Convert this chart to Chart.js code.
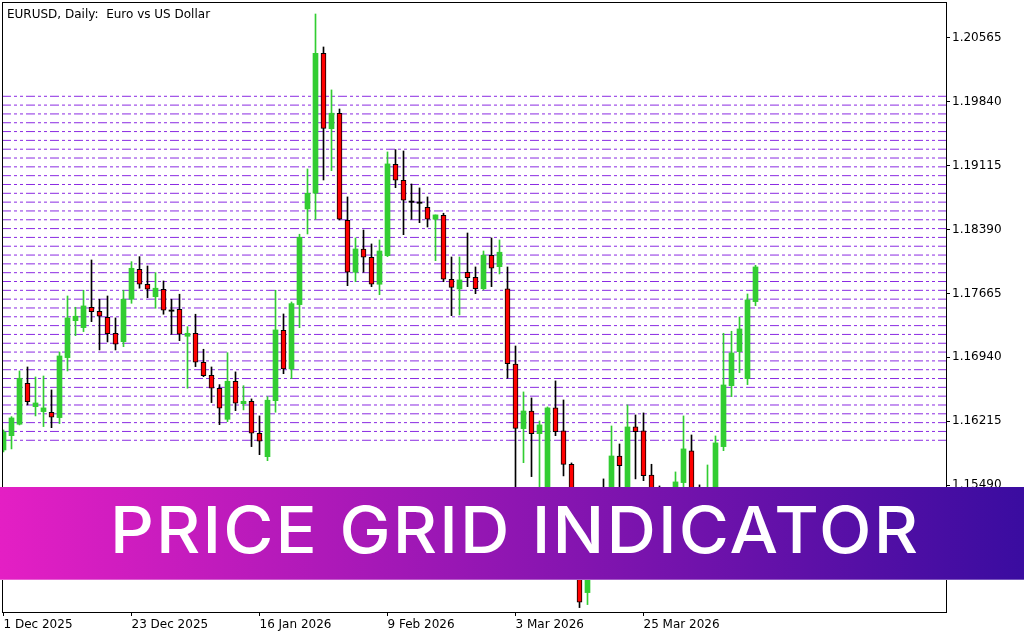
<!DOCTYPE html>
<html>
<head>
<meta charset="utf-8">
<title>EURUSD Daily - Price Grid Indicator</title>
<script src="https://cdn.jsdelivr.net/npm/chart.js@4.4.1/dist/chart.umd.min.js"></script>
<style>
  html, body { margin: 0; padding: 0; background: #fff; }
  #wrap { position: relative; width: 1024px; height: 640px; overflow: hidden; }
  #title { position: absolute; left: 7px; top: 7px; font: 12px "DejaVu Sans"; line-height: 14px; color: #000; white-space: pre; }
  #banner {
    position: absolute; left: 0; top: 487px; width: 1024px; height: 93px;
    background: linear-gradient(90deg, #e41fc4 0%, #3a0ca0 100%);
    border-bottom: 1px solid rgba(255, 255, 255, 0.3); box-sizing: border-box;
  }
  #banner span {
    position: absolute; left: 110px; top: 11px; color: #fff;
    font: 500 64px Inter; line-height: 64px; white-space: nowrap;
    letter-spacing: 2px; transform-origin: 0 50%;
  }
</style>
</head>
<body>
<div id="wrap">
  <canvas id="chart" width="1024" height="640"></canvas>
  <div id="title">EURUSD, Daily:  Euro vs US Dollar</div>
  <div id="banner"><span>PRICE GRID INDICATOR</span></div>
</div>
<script>
// daily candles, 1 Dec 2025 onwards
const opens = [
  1.15890, 1.16052, 1.16182, 1.16647, 1.16381, 1.16325, 1.16318, 1.16257, 1.16937, 1.17356,
  1.17277, 1.17508, 1.17463, 1.17395, 1.17213, 1.17118, 1.17599, 1.17939, 1.17769, 1.17628,
  1.17712, 1.17470, 1.17485, 1.17179, 1.17213, 1.16885, 1.16737, 1.16590, 1.16238, 1.16669,
  1.16415, 1.16442, 1.16080, 1.15814, 1.16449, 1.17247, 1.16809, 1.17538, 1.18623, 1.18801,
  1.20388, 1.19533, 1.19708, 1.18494, 1.17905, 1.18169, 1.18075, 1.17769, 1.18093, 1.19129,
  1.18948, 1.18705, 1.18694, 1.18642, 1.18506, 1.18551, 1.17826, 1.17716, 1.17905, 1.17848,
  1.17719, 1.18098, 1.17968, 1.17716, 1.16865, 1.16132, 1.16332, 1.16075, 1.15414, 1.16367,
  1.16106, 1.15728, 1.15074, 1.14273, 1.14700, 1.15324, 1.15040, 1.15822, 1.15324, 1.16151,
  1.16106, 1.15604, 1.15267, 1.15097, 1.15267, 1.15520, 1.15879, 1.15324, 1.15153, 1.15380,
  1.15928, 1.16619, 1.17005, 1.16699, 1.17572
];
const highs = [
  1.16117, 1.16268, 1.16786, 1.16831, 1.16718, 1.16729, 1.16571, 1.17001, 1.17636, 1.17508,
  1.17701, 1.18044, 1.17599, 1.17636, 1.17387, 1.17701, 1.18025, 1.18082, 1.17976, 1.17900,
  1.17806, 1.17599, 1.17656, 1.17288, 1.17429, 1.17032, 1.16831, 1.16631, 1.16993, 1.16775,
  1.16619, 1.16469, 1.16276, 1.16495, 1.17701, 1.17432, 1.17568, 1.18336, 1.19076, 1.20833,
  1.20459, 1.19972, 1.19756, 1.18759, 1.18294, 1.18384, 1.18226, 1.18271, 1.19269, 1.19295,
  1.19280, 1.18906, 1.18861, 1.18759, 1.18555, 1.18574, 1.18078, 1.18078, 1.18350, 1.17965,
  1.18146, 1.18294, 1.18271, 1.17965, 1.17069, 1.16548, 1.16480, 1.16219, 1.16378, 1.16673,
  1.16457, 1.15743, 1.15153, 1.14757, 1.15074, 1.15562, 1.16162, 1.15958, 1.16401, 1.16287,
  1.16310, 1.15728, 1.15482, 1.15380, 1.15641, 1.16276, 1.16060, 1.15494, 1.15720, 1.16049,
  1.17213, 1.17236, 1.17398, 1.17659, 1.17984
];
const lows = [
  1.15868, 1.15902, 1.16174, 1.16401, 1.16276, 1.16155, 1.16143, 1.16189, 1.16786, 1.17186,
  1.17232, 1.17345, 1.17024, 1.17115, 1.17024, 1.17061, 1.17553, 1.17724, 1.17617, 1.17497,
  1.17429, 1.17202, 1.17129, 1.16590, 1.16835, 1.16721, 1.16427, 1.16177, 1.16211, 1.16336,
  1.16344, 1.15928, 1.15837, 1.15769, 1.16318, 1.16755, 1.16699, 1.17277, 1.18339, 1.18506,
  1.18951, 1.19057, 1.18498, 1.17753, 1.17798, 1.17905, 1.17742, 1.17651, 1.18082, 1.18864,
  1.18331, 1.18506, 1.18467, 1.18418, 1.18036, 1.17798, 1.17413, 1.17421, 1.17742, 1.17662,
  1.17704, 1.17742, 1.17886, 1.16703, 1.15437, 1.15746, 1.15588, 1.15380, 1.15358, 1.16052,
  1.15596, 1.15006, 1.14103, 1.14137, 1.14643, 1.14927, 1.14983, 1.15414, 1.15267, 1.15562,
  1.15542, 1.15187, 1.15006, 1.14983, 1.15210, 1.15414, 1.15267, 1.15097, 1.15074, 1.15324,
  1.15882, 1.16495, 1.16767, 1.16631, 1.17526
];
const closes = [
  1.16094, 1.16253, 1.16703, 1.16438, 1.16423, 1.16367, 1.16261, 1.16956, 1.17387, 1.17406,
  1.17523, 1.17458, 1.17406, 1.17209, 1.17089, 1.17599, 1.17950, 1.17769, 1.17712, 1.17724,
  1.17474, 1.17470, 1.17202, 1.17213, 1.16885, 1.16733, 1.16590, 1.16363, 1.16669, 1.16420,
  1.16442, 1.16080, 1.15989, 1.16454, 1.17251, 1.16809, 1.17549, 1.18302, 1.18801, 1.20388,
  1.19537, 1.19708, 1.18506, 1.17905, 1.18169, 1.18075, 1.17769, 1.18146, 1.19133, 1.18948,
  1.18721, 1.18705, 1.18694, 1.18506, 1.18555, 1.17826, 1.17733, 1.17818, 1.17844, 1.17719,
  1.18098, 1.17950, 1.18132, 1.16869, 1.16134, 1.16332, 1.16075, 1.16174, 1.16367, 1.16098,
  1.15726, 1.15097, 1.14164, 1.14700, 1.14983, 1.15040, 1.15822, 1.15712, 1.16151, 1.16098,
  1.15599, 1.15267, 1.15097, 1.15324, 1.15528, 1.15902, 1.15324, 1.15153, 1.15380, 1.15970,
  1.16627, 1.16990, 1.17262, 1.17591, 1.17965
];

// price grid levels drawn by the indicator
const gridLevels = [
  1.1600, 1.1610, 1.1620, 1.1630, 1.1640, 1.1650, 1.1660, 1.1670, 1.1680, 1.1690,
  1.1700, 1.1710, 1.1720, 1.1730, 1.1740, 1.1750, 1.1760, 1.1770, 1.1780, 1.1790,
  1.1800, 1.1810, 1.1820, 1.1830, 1.1840, 1.1850, 1.1860, 1.1870, 1.1880, 1.1890,
  1.1900, 1.1910, 1.1920, 1.1930, 1.1940, 1.1950, 1.1960, 1.1970, 1.1980, 1.1990
];

const priceTicks = [1.14765, 1.15490, 1.16215, 1.16940, 1.17665, 1.18390, 1.19115, 1.19840, 1.20565];
const dateTickBars = [0, 16, 32, 48, 64, 80];
const dateTickLabels = ["1 Dec 2025", "23 Dec 2025", "16 Jan 2026", "9 Feb 2026", "3 Mar 2026", "25 Mar 2026"];

const GREEN = "#32cd32";
const RED = "#ff0000";
const VIOLET = "#8a2be2";

// 8 px per bar over a 944 px wide plot
const xMin = -0.1875;
const xMax = 117.8125;
const yMin = 1.14053;
const yMax = 1.20969;

const kind = opens.map((o, i) => (closes[i] > o ? "up" : closes[i] < o ? "down" : "doji"));

const bodies = opens.map((o, i) => ({
  x: i,
  y: kind[i] === "doji" ? [o - 0.00007, o + 0.00007] : [o, closes[i]],
}));
const wicks = opens.map((o, i) => ({ x: i, y: [lows[i], highs[i]] }));

const levelSets = gridLevels.map((lvl) => ({
  type: "line",
  data: [
    { x: xMin, y: lvl },
    { x: xMax, y: lvl },
  ],
  borderColor: VIOLET,
  borderWidth: 1,
  borderDash: [9, 3, 3, 3, 3, 3],
  pointRadius: 0,
  fill: false,
  order: 2,
}));

const framePlugin = {
  id: "frame",
  afterDraw(chart) {
    const { ctx, chartArea: a } = chart;
    ctx.save();
    ctx.strokeStyle = "#000";
    ctx.lineWidth = 1;
    ctx.strokeRect(a.left + 0.5, a.top + 0.5, a.right - a.left, a.bottom - a.top);
    ctx.restore();
  },
};

const tickFont = { family: "DejaVu Sans", size: 12 };

new Chart(document.getElementById("chart"), {
  type: "bar",
  data: {
    datasets: [
      {
        data: bodies,
        grouped: false,
        barThickness: 5,
        backgroundColor: kind.map((k) => (k === "up" ? GREEN : k === "down" ? RED : "#000")),
        borderColor: "#000",
        borderWidth: kind.map((k) => (k === "down" ? 1 : 0)),
        borderSkipped: false,
        order: 0,
      },
      {
        data: wicks,
        grouped: false,
        barThickness: 1,
        backgroundColor: kind.map((k) => (k === "up" ? GREEN : "#000")),
        borderWidth: 0,
        order: 1,
      },
      ...levelSets,
    ],
  },
  options: {
    responsive: false,
    animation: false,
    events: [],
    layout: { padding: { left: 2, top: 2, right: 0, bottom: 0 } },
    plugins: {
      legend: { display: false },
      tooltip: { enabled: false },
    },
    scales: {
      x: {
        type: "linear",
        min: xMin,
        max: xMax,
        offset: false,
        afterBuildTicks: (s) => {
          s.ticks = dateTickBars.map((v) => ({ value: v }));
        },
        afterFit: (s) => {
          s.height = 28;
          s.paddingLeft = 0;
          s.paddingRight = 0;
        },
        grid: { offset: false, drawOnChartArea: false, drawTicks: true, tickLength: 4, color: "#000" },
        border: { display: false },
        ticks: {
          autoSkip: false,
          maxRotation: 0,
          align: "start",
          padding: 2,
          color: "#000",
          font: tickFont,
          callback: (v, i) => dateTickLabels[i],
        },
      },
      y: {
        position: "right",
        min: yMin,
        max: yMax,
        afterBuildTicks: (s) => {
          s.ticks = priceTicks.map((v) => ({ value: v }));
        },
        afterFit: (s) => {
          s.width = 78;
          s.paddingTop = 0;
          s.paddingBottom = 0;
        },
        grid: { drawOnChartArea: false, drawTicks: true, tickLength: 4, color: "#000" },
        border: { display: false },
        ticks: {
          padding: 2,
          color: "#000",
          font: tickFont,
          callback: (v) => v.toFixed(5),
        },
      },
    },
  },
  plugins: [framePlugin],
});

// the caption font is narrower than the one in the picture: widen it to span 808 px
const cap = document.querySelector("#banner span");
const capWidth = cap.getBoundingClientRect().width - 2;
cap.style.transform = "scaleX(" + 808 / capWidth + ")";
</script>
</body>
</html>
